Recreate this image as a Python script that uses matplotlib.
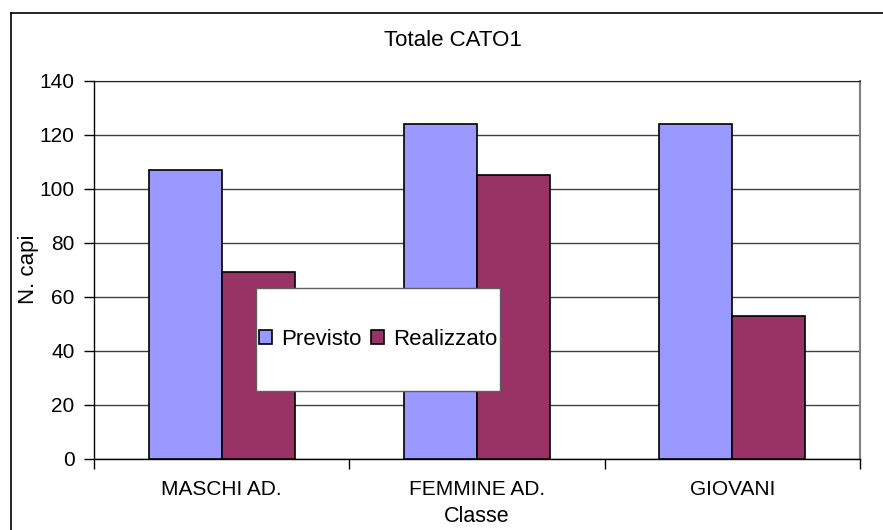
import numpy as np
import matplotlib
matplotlib.use("Agg")
import matplotlib.pyplot as plt
from matplotlib.patches import Rectangle
from matplotlib.lines import Line2D

# dati
categorie = ["MASCHI AD.", "FEMMINE AD.", "GIOVANI"]
previsto = [107, 124, 124]
realizzato = [69, 105, 53]
serie = ["Previsto", "Realizzato"]
colori = ["#9999FF", "#993366"]
yticks = [0, 20, 40, 60, 80, 100, 120, 140]

plt.rcParams['font.family'] = ['Liberation Sans', 'DejaVu Sans']

fig = plt.figure(figsize=(8.83, 5.30), dpi=100)
ax = fig.add_axes([94 / 883, 71 / 530, 766 / 883, 378.5 / 530])

x = np.arange(len(categorie))
w = 1 / 3.5  # gap width 150% come in Excel
b1 = ax.bar(x - w / 2, previsto, w, color=colori[0], edgecolor="black",
            linewidth=1.2, zorder=3, label=serie[0])
b2 = ax.bar(x + w / 2, realizzato, w, color=colori[1], edgecolor="black",
            linewidth=1.2, zorder=3, label=serie[1])

ax.set_xlim(-0.5, len(categorie) - 0.5)
ax.set_ylim(0, 140)
ax.set_yticks(yticks)
ax.yaxis.grid(True, color="#404040", linewidth=1, zorder=0)
ax.set_axisbelow(True)

# tacche sui confini delle categorie, etichette al centro
ax.set_xticks(np.arange(len(categorie) + 1) - 0.5)
ax.set_xticklabels([])
ax.set_xticks(x, minor=True)
ax.set_xticklabels(categorie, minor=True, fontsize=15)
ax.tick_params(axis="x", which="major", direction="out", length=7, width=1, color="black")
ax.tick_params(axis="x", which="minor", length=0, pad=15)
ax.tick_params(axis="y", direction="out", length=7, width=1, pad=7, labelsize=15)

for s in ["left", "bottom"]:
    ax.spines[s].set_color("black")
    ax.spines[s].set_linewidth(1)
ax.spines["top"].set_color("#202020")
ax.spines["right"].set_color("#808080")
ax.spines["right"].set_linewidth(1.5)

ax.set_xlabel("Classe", fontsize=15.5)
ax.xaxis.set_label_coords(0.5, -0.153)
ax.xaxis.label.set_verticalalignment("center")
ax.set_ylabel("N. capi", fontsize=16)
ax.yaxis.set_label_coords(-0.086, 0.5)
ax.yaxis.label.set_verticalalignment("center")

fig.text(453 / 883, 1 - 41 / 530, "Totale CATO1", fontsize=16,
         ha="center", va="center")

# riquadro della legenda
lx0, ly0, lw, lh = 0.2115, 0.1797, 0.3185, 0.2729
ax.add_patch(Rectangle((lx0, ly0), lw, lh, transform=ax.transAxes,
                       facecolor="white", edgecolor="#606060", linewidth=1,
                       zorder=5))
leg = ax.legend(loc="center", bbox_to_anchor=(lx0 + lw / 2, ly0 + lh / 2),
                ncol=2, frameon=False, fontsize=16, handlelength=0.6,
                handleheight=0.6, handletextpad=0.4, columnspacing=0.4,
                borderpad=0, borderaxespad=0)
leg.set_zorder(6)

# bordo esterno del grafico
fig.add_artist(Line2D([10.5 / 883, 10.5 / 883], [0, 1 - 12.7 / 530],
                      transform=fig.transFigure, color="black", linewidth=1.2))
fig.add_artist(Line2D([10.5 / 883, 1], [1 - 12.7 / 530, 1 - 12.7 / 530],
                      transform=fig.transFigure, color="black", linewidth=1.2))

fig.savefig("out.png", dpi=100)
